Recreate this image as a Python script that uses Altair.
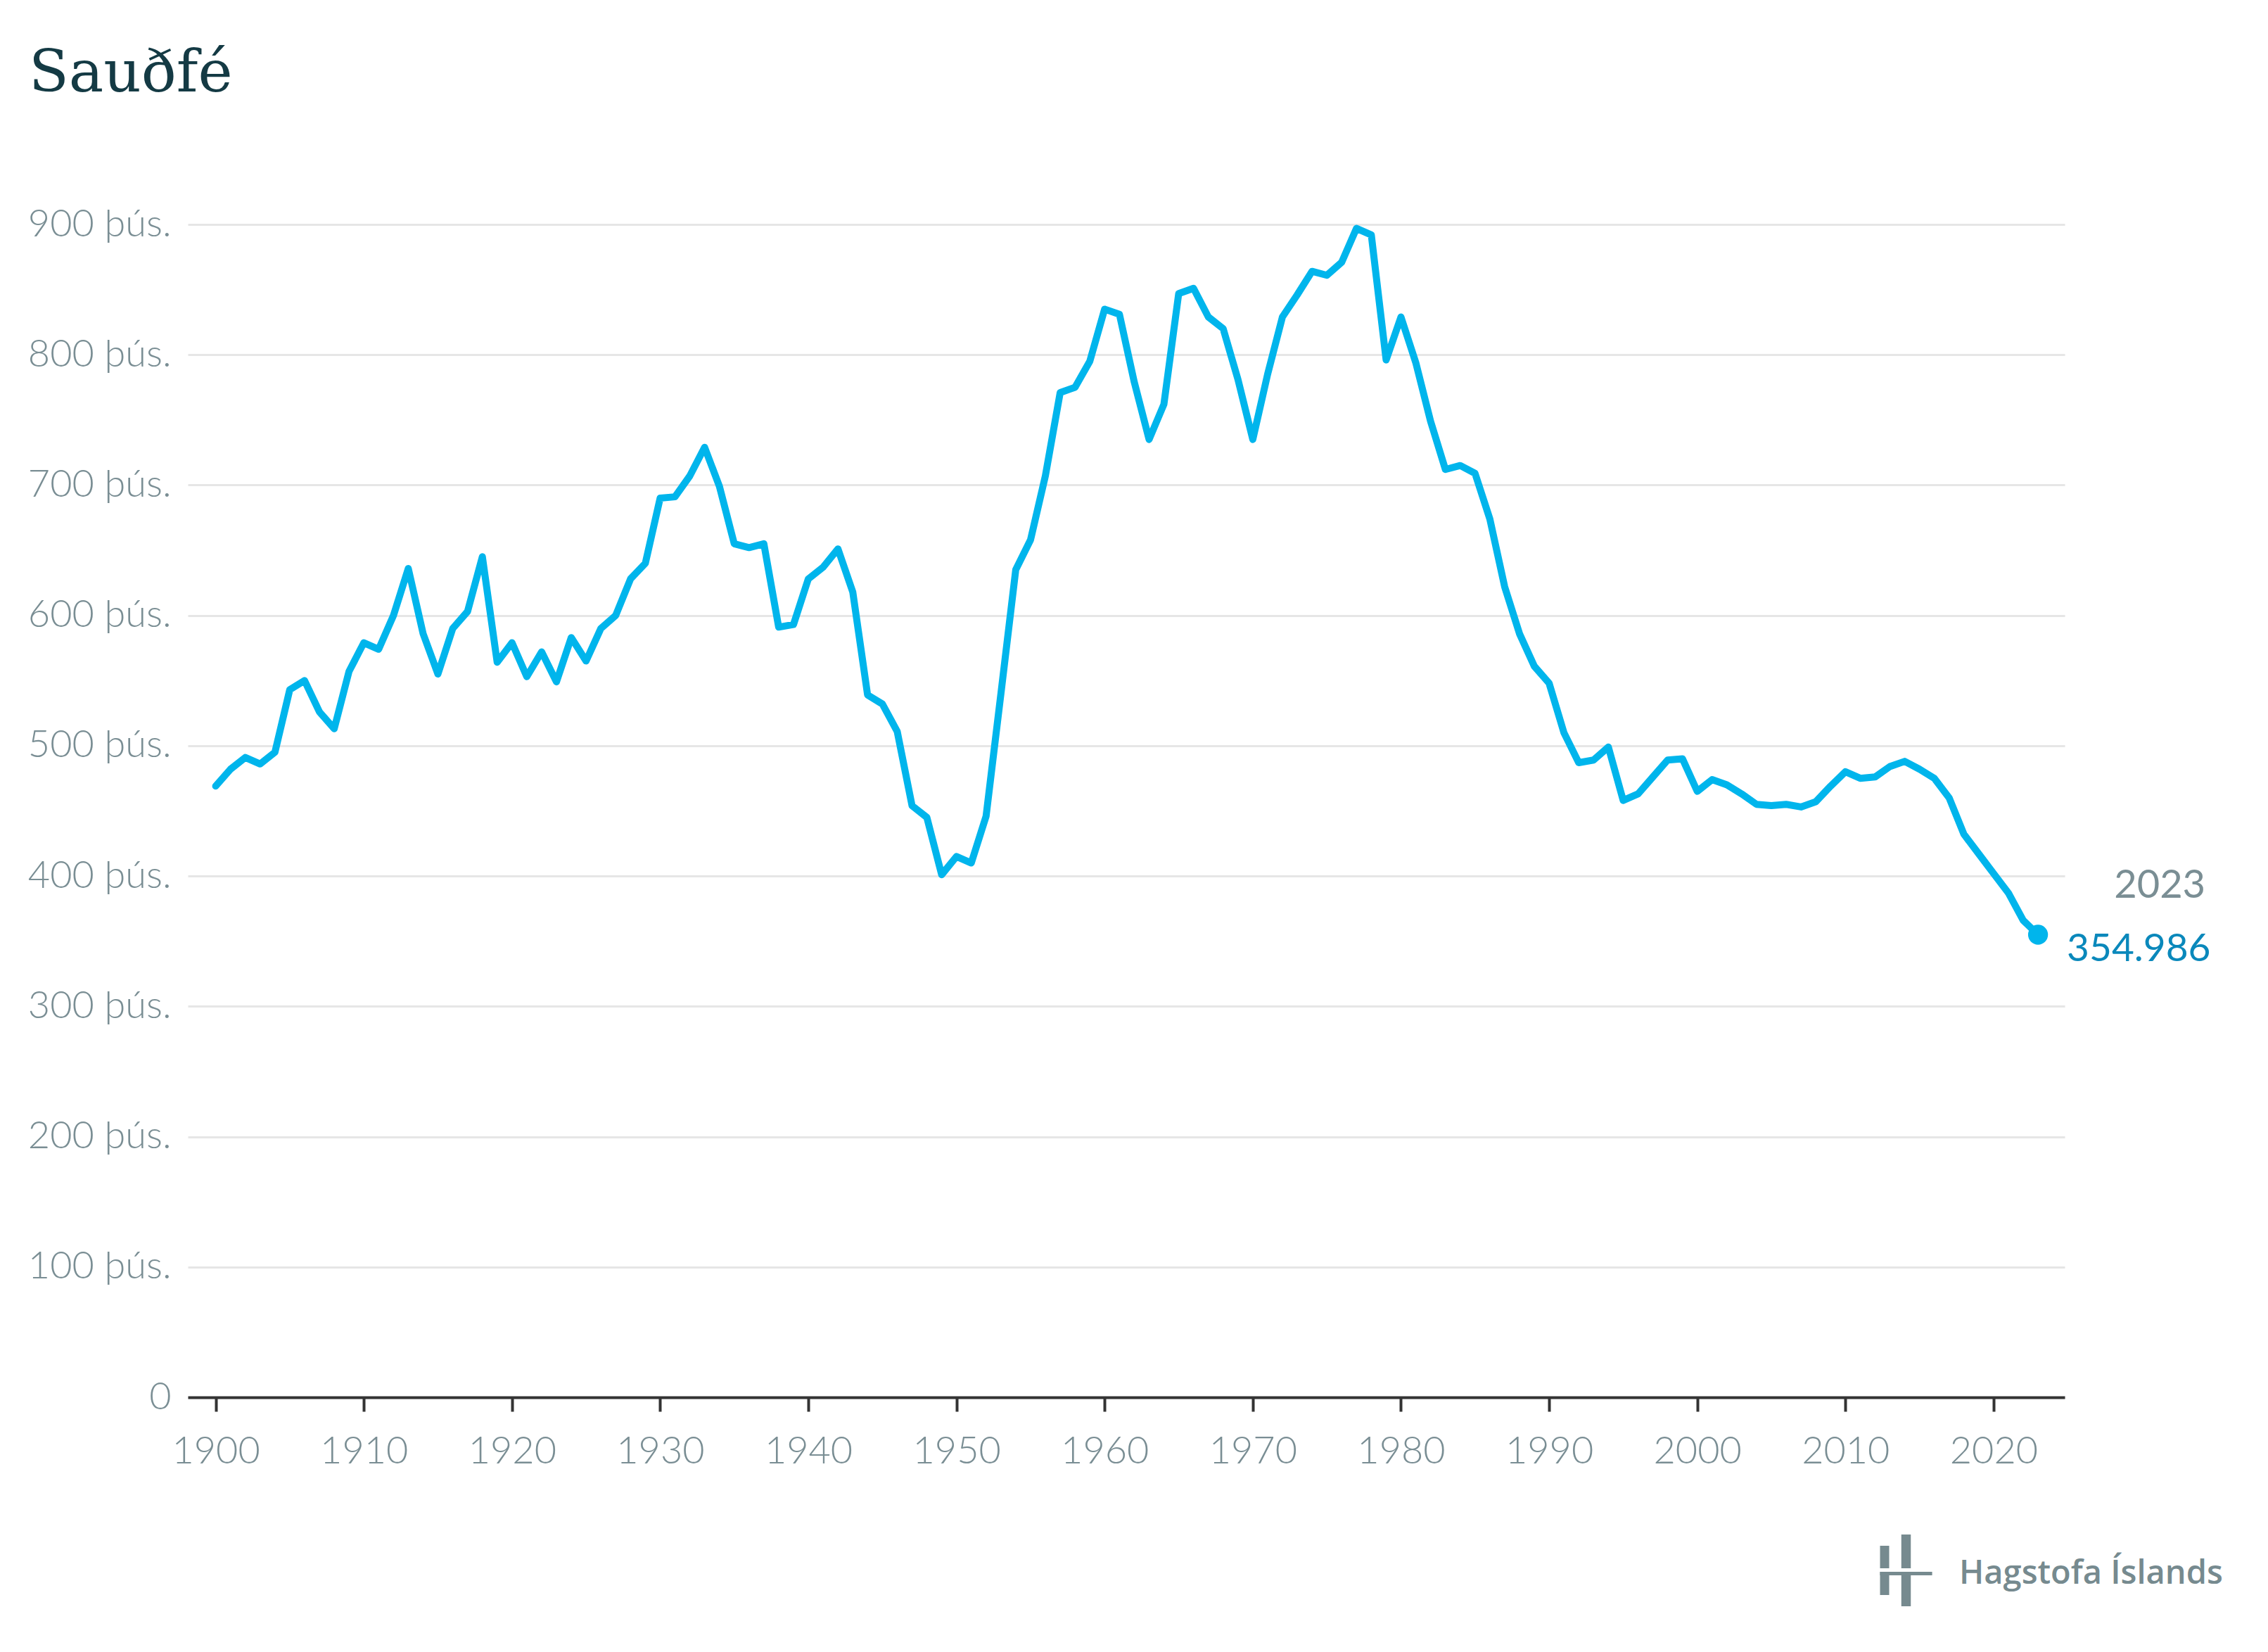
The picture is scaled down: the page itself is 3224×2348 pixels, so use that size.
import altair as alt
import pandas as pd

# ---- data (thousands of sheep) ----
years = list(range(1900, 2024))
values = [
    469, 482, 491, 486, 495, 543, 550, 526, 513, 557,   # 1900-1909
    579, 574, 600, 636, 586, 555, 590, 603, 645, 564,   # 1910-1919
    579, 553, 572, 549, 583, 565, 590, 600, 628, 640,   # 1920-1929
    690, 691, 707, 729, 699, 655, 652, 655, 591, 593,   # 1930-1939
    628, 637, 651, 618, 539, 532, 511, 454, 445, 401,   # 1940-1949
    415, 410, 446, 540, 635, 658, 707, 771, 775, 795,   # 1950-1959
    835, 831, 779, 735, 762, 847, 851, 829, 820, 781,   # 1960-1969
    735, 785, 829, 846, 864, 861, 871, 897, 892, 796,   # 1970-1979
    829, 794, 749, 712, 715, 709, 674, 622, 586, 561,   # 1980-1989
    548, 510, 487, 489, 499, 458, 463, 476, 489, 490,   # 1990-1999
    465, 474, 470, 463, 455, 454, 455, 453, 457, 469,   # 2000-2009
    480, 475, 476, 484, 488, 482, 475, 460, 432, 417,   # 2010-2019
    402, 387, 366, 354.986,                             # 2020-2023
]
x_ticks = list(range(1900, 2021, 10))
y_ticks = list(range(0, 901, 100))
title_text = "Sauðfé"
source_text = "Hagstofa Íslands"

df = pd.DataFrame({"ar": years, "fjoldi": values})
one = pd.DataFrame({"k": [0]})

LINE = "#00b5ec"
GREY = "#7a8e94"
LOGO = "#768a8f"

x_enc = alt.X(
    "ar:Q",
    scale=alt.Scale(domain=[1898.12, 2024.8], nice=False, zero=False),
    axis=alt.Axis(
        values=x_ticks, format="d", title=None, grid=False,
        domain=True, domainColor="#333333", domainWidth=4,
        ticks=True, tickColor="#333333", tickWidth=4, tickSize=20,
        labelFont="Lato", labelFontWeight=300, labelFontSize=54,
        labelColor=GREY, labelPadding=30, zindex=1,
    ),
)
y_enc = alt.Y(
    "fjoldi:Q",
    scale=alt.Scale(domain=[0, 900], nice=False),
    axis=alt.Axis(
        values=y_ticks, title=None, domain=False, ticks=False,
        grid=True, gridColor="#e6e6e6", gridWidth=3,
        labelExpr="datum.value == 0 ? '0' : datum.value + ' þús.'",
        labelFont="Lato", labelFontWeight=300, labelFontSize=54,
        labelColor=GREY, labelPadding=24, labelLimit=1000,
    ),
)

base = alt.Chart(df)

line = base.mark_line(color=LINE, strokeWidth=10, strokeJoin="round", strokeCap="round").encode(x=x_enc, y=y_enc)

last = base.transform_filter("datum.ar == 2023")
dot = last.mark_circle(size=800, color=LINE, opacity=1).encode(x="ar:Q", y="fjoldi:Q")
year_lbl = last.mark_text(
    align="right", baseline="alphabetic", dx=238, dy=-52,
    font="Lato", fontSize=56, color=GREY,
).encode(x="ar:Q", y="fjoldi:Q", text=alt.Text("ar:Q", format="d"))
val_lbl = last.transform_calculate(
    lbl="replace(format(datum.fjoldi * 1000, ',.0f'), ',', '.')"
).mark_text(
    align="left", baseline="alphabetic", dx=41, dy=38,
    font="Lato", fontSize=55, color="#0a88bb",
).encode(x="ar:Q", y="fjoldi:Q", text="lbl:N")

# ---- source logo ----
logo_text = alt.Chart(one).mark_text(
    text=source_text, align="left", baseline="alphabetic",
    font="Open Sans", fontWeight=600, fontSize=47, color=LOGO,
).encode(x=alt.value(2518), y=alt.value(1932))


def bar(x1, x2, y1, y2, w):
    return alt.Chart(one).mark_rule(color=LOGO, strokeWidth=w).encode(
        x=alt.value(x1), x2=alt.value(x2), y=alt.value(y1), y2=alt.value(y2)
    )


logo_bars = [
    bar(2412, 2412, 1878, 1910, 13),
    bar(2412, 2412, 1915, 1948, 13),
    bar(2442.5, 2442.5, 1862, 1910, 13.5),
    bar(2442.5, 2442.5, 1920, 1964, 13.5),
    bar(2405.5, 2479.6, 1917.5, 1917.5, 5),
]

chart = alt.layer(line, dot, year_lbl, val_lbl, logo_text, *logo_bars).properties(
    width=2668,
    height=1667,
    background="white",
    autosize=alt.AutoSizeParams(type="none"),
    padding={"left": 259, "top": 311, "right": 280, "bottom": 354},
    title=alt.TitleParams(
        title_text, anchor="start", frame="group", font="DejaVu Serif",
        fontSize=83, fontWeight="normal", color="#143a44",
        dx=-226, offset=79, baseline="alphabetic",
    ),
).configure_view(stroke=None, strokeWidth=0)

chart.save("out.html", embed_options={"renderer": "svg", "actions": False})
